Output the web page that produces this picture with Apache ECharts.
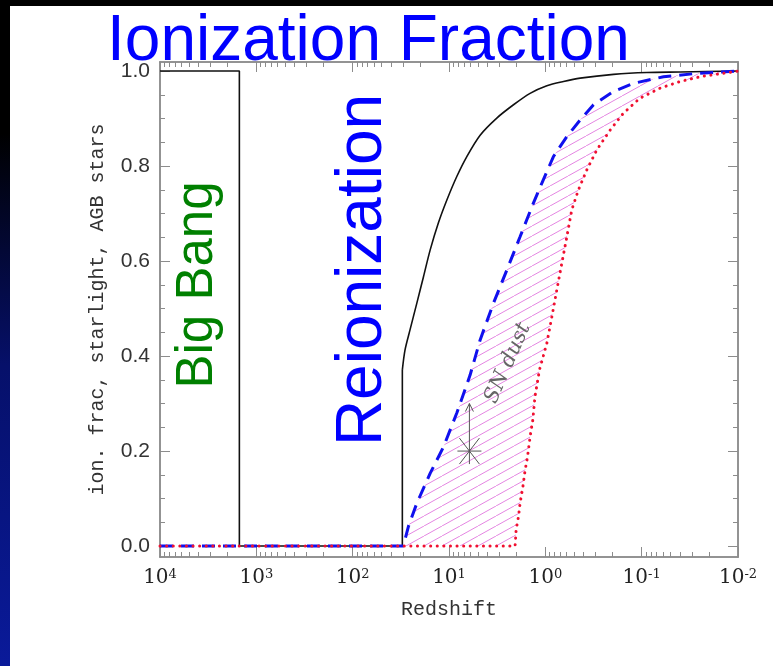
<!DOCTYPE html>
<html>
<head>
<meta charset="utf-8">
<script src="https://cdn.jsdelivr.net/npm/echarts@6/dist/echarts.min.js"></script>
<style>
html,body{margin:0;padding:0;width:773px;height:666px;overflow:hidden;
 background:linear-gradient(to bottom,#000 0%,#000 20%,#06106a 55%,#0a1a9a 100%);}
#chart{position:absolute;left:10px;top:6px;width:763px;height:660px;background:#fff;}
</style>
</head>
<body>
<div id="chart"></div>
<script>
// ---- data ----
const tickExponents = [4, 3, 2, 1, 0, -1, -2];
const yTicks = [0, 0.2, 0.4, 0.6, 0.8, 1.0];
const yMinorTicks = [0.05,0.1,0.15,0.25,0.3,0.35,0.45,0.5,0.55,0.65,0.7,0.75,0.85,0.9,0.95];

// solid black: ionization fraction
const blackZ = [10000, 1500, 1500, 30.5, 30.5, 28.6, 25.4, 21.6, 18.4, 15.7, 12.9, 10.5, 8.30, 6.53, 4.75, 3.19, 2.14, 1.44, 0.964, 0.648, 0.435, 0.196, 0.0883, 0.0398, 0.01];
const blackY = [1.0, 1.0, 0.0, 0.0, 0.371, 0.413, 0.455, 0.511, 0.567, 0.623, 0.680, 0.729, 0.778, 0.820, 0.865, 0.901, 0.929, 0.953, 0.969, 0.978, 0.985, 0.993, 0.997, 0.998, 1.0];

// dashed blue: starlight
const blueZ = [10000, 29.8, 26.4, 21.6, 15.7, 11.4, 8.30, 6.04, 4.75, 3.46, 2.51, 1.83, 1.33, 1.05, 0.824, 0.598, 0.435, 0.316, 0.196, 0.122, 0.0594, 0.0267, 0.01];
const blueY = [0.0, 0.0, 0.041, 0.090, 0.153, 0.209, 0.280, 0.360, 0.434, 0.511, 0.581, 0.651, 0.722, 0.771, 0.820, 0.862, 0.897, 0.929, 0.957, 0.974, 0.988, 0.995, 1.0];

// dotted red: AGB stars
const redZ = [10000, 2.06, 2.01, 1.90, 1.83, 1.71, 1.62, 1.53, 1.44, 1.35, 1.28, 1.15, 0.964, 0.855, 0.760, 0.675, 0.598, 0.531, 0.453, 0.371, 0.292, 0.212, 0.155, 0.104, 0.0643, 0.0398, 0.0247, 0.01];
const redY = [0.0, 0.0, 0.034, 0.062, 0.090, 0.125, 0.160, 0.188, 0.230, 0.265, 0.315, 0.371, 0.427, 0.483, 0.539, 0.595, 0.651, 0.708, 0.750, 0.792, 0.834, 0.876, 0.911, 0.943, 0.964, 0.978, 0.988, 1.0];

// SN dust lower limit point [z, y, yArrowTop]
const snPoint = [6.14, 0.20, 0.30];
const snLabel = [2.45, 0.385, 'SN dust'];

// ---- build ----
const majorZ = tickExponents.map(e => Math.pow(10, e));
const minorZ = [];
for (let e = -2; e <= 3; e++) for (let k = 2; k <= 9; k++) minorZ.push(k * Math.pow(10, e));
const zip = (a, b) => a.map((v, i) => [v, b[i]]);
const blackAll = zip(blackZ, blackY);

const hatch = document.createElement('canvas');
hatch.width = 18; hatch.height = 10;
(function(){
  const c = hatch.getContext('2d');
  c.strokeStyle = '#e486e2'; c.lineWidth = 1;
  [-18, 0, 18].forEach(o => { c.beginPath(); c.moveTo(o, 10); c.lineTo(o + 18, 0); c.stroke(); });
})();

const AX = '#8c8c8c';
function xAx(pos, vals, len, labels) {
  return {
    type: 'log', logBase: 10, min: 0.01, max: 10000, inverse: true, gridIndex: 0, position: pos,
    axisLine: {show: true, onZero: false, lineStyle: {color: AX, width: 1.5}},
    axisTick: {show: true, inside: true, length: len, customValues: vals, lineStyle: {color: AX, width: 1}},
    axisLabel: labels ? {
      show: true, customValues: majorZ, margin: 11,
      formatter: v => '{b|10}{s|' + Math.round(Math.log10(v)) + '}',
      rich: {
        b: {fontFamily: 'DejaVu Serif', fontSize: 20, color: '#222'},
        s: {fontFamily: 'DejaVu Serif', fontSize: 13, color: '#222', verticalAlign: 'top'}
      }
    } : {show: false},
    splitLine: {show: false}, minorTick: {show: false},
    name: labels ? 'Redshift' : '', nameLocation: 'middle', nameGap: 43,
    nameTextStyle: {fontFamily: 'Liberation Mono', fontSize: 20, color: '#333'}
  };
}
function yAx(pos, vals, len, labels) {
  return {
    type: 'value', min: -0.023, max: 1.019, gridIndex: 0, position: pos,
    axisLine: {show: true, onZero: false, lineStyle: {color: AX, width: 1.5}},
    axisTick: {show: true, inside: true, length: len, customValues: vals, lineStyle: {color: AX, width: 1}},
    axisLabel: labels ? {show: true, customValues: yTicks, margin: 10, formatter: v => v.toFixed(1),
      fontFamily: 'Liberation Sans', fontSize: 21, color: '#333'} : {show: false},
    splitLine: {show: false},
    name: labels ? 'ion. frac, starlight, AGB stars' : '', nameLocation: 'middle', nameGap: 52, nameRotate: 90,
    nameTextStyle: {fontFamily: 'Liberation Mono', fontSize: 20, color: '#333'}
  };
}

const chart = echarts.init(document.getElementById('chart'), null, {renderer: 'canvas'});
chart.setOption({
  animation: false,
  backgroundColor: '#fff',
  title: {
    text: 'Ionization Fraction', left: 97, top: 4, padding: 0,
    textStyle: {fontFamily: 'Liberation Sans', fontSize: 64, fontWeight: 'normal', color: '#0000ff'}
  },
  grid: {left: 150, right: 35, top: 56, bottom: 109, containLabel: false},
  xAxis: [xAx('bottom', majorZ, 10, true), xAx('bottom', minorZ, 5, false), xAx('top', majorZ, 10, false), xAx('top', minorZ, 5, false)],
  yAxis: [yAx('left', yTicks, 10, true), yAx('left', yMinorTicks, 5, false), yAx('right', yTicks, 10, false), yAx('right', yMinorTicks, 5, false)],
  graphic: [
    {type: 'text', x: 188, y: 279, rotation: Math.PI / 2, z: 10,
     style: {text: 'Big Bang', fill: '#008000', font: '51px "Liberation Sans"', align: 'center', verticalAlign: 'middle', textAlign: 'center', textVerticalAlign: 'middle'}},
    {type: 'text', x: 353, y: 264, rotation: Math.PI / 2, z: 10,
     style: {text: 'Reionization', fill: '#0000ff', font: '64px "Liberation Sans"', align: 'center', verticalAlign: 'middle', textAlign: 'center', textVerticalAlign: 'middle'}}
  ],
  series: [
    {
      name: 'SN dust range', type: 'custom', xAxisIndex: 0, yAxisIndex: 0, z: 1,
      data: [[blueZ[1], blueY[1]]],
      renderItem: (params, api) => {
        const pts = [];
        for (let i = 1; i < blueZ.length; i++) pts.push(api.coord([blueZ[i], blueY[i]]));
        for (let i = redZ.length - 1; i >= 1; i--) pts.push(api.coord([redZ[i], redY[i]]));
        return {type: 'polygon', shape: {points: pts}, style: {fill: {image: hatch, repeat: 'repeat'}, stroke: null}};
      }
    },
    {name: 'ion. frac', type: 'line', xAxisIndex: 0, yAxisIndex: 0, z: 3, data: blackAll.slice(0, 5),
     showSymbol: false, symbol: 'none', lineStyle: {color: '#111', width: 1.6}},
    {name: 'ion. frac (rise)', type: 'line', xAxisIndex: 0, yAxisIndex: 0, z: 3, data: blackAll.slice(4),
     showSymbol: false, symbol: 'none', smooth: 0.3, lineStyle: {color: '#111', width: 1.6}},
    {name: 'starlight', type: 'line', xAxisIndex: 0, yAxisIndex: 0, z: 4, data: zip(blueZ, blueY),
     showSymbol: false, symbol: 'none', lineStyle: {color: '#1010ee', width: 3, type: [13, 8]}},
    {name: 'AGB stars', type: 'line', xAxisIndex: 0, yAxisIndex: 0, z: 5, data: zip(redZ, redY),
     showSymbol: false, symbol: 'none', lineStyle: {color: '#f01030', width: 3, type: [0.1, 6.5], cap: 'round'}},
    {
      name: 'SN point', type: 'custom', xAxisIndex: 0, yAxisIndex: 0, z: 6,
      data: [snPoint],
      renderItem: (params, api) => {
        const c = api.coord([api.value(0), api.value(1)]);
        const t = api.coord([api.value(0), api.value(2)]);
        const st = {stroke: '#555', lineWidth: 1, fill: null};
        const L = (x1, y1, x2, y2) => ({type: 'line', shape: {x1, y1, x2, y2}, style: st});
        return {type: 'group', children: [
          L(c[0] - 12, c[1], c[0] + 12, c[1]),
          L(c[0] - 10, c[1] - 13, c[0] + 10, c[1] + 13),
          L(c[0] + 10, c[1] - 13, c[0] - 10, c[1] + 13),
          L(c[0], c[1] + 13, c[0], t[1]),
          {type: 'polyline', shape: {points: [[t[0] - 4, t[1] + 8], [t[0], t[1]], [t[0] + 4, t[1] + 8]]}, style: st}
        ]};
      }
    },
    {
      name: 'SN label', type: 'custom', xAxisIndex: 0, yAxisIndex: 0, z: 6,
      data: [snLabel],
      renderItem: (params, api) => {
        const c = api.coord([api.value(0), api.value(1)]);
        return {type: 'text', x: c[0], y: c[1], rotation: 66 * Math.PI / 180,
          style: {text: snLabel[2], fill: '#666', font: 'italic 21px "DejaVu Serif"', align: 'center', verticalAlign: 'middle', textAlign: 'center', textVerticalAlign: 'middle'}};
      }
    }
  ]
});
</script>
</body>
</html>
